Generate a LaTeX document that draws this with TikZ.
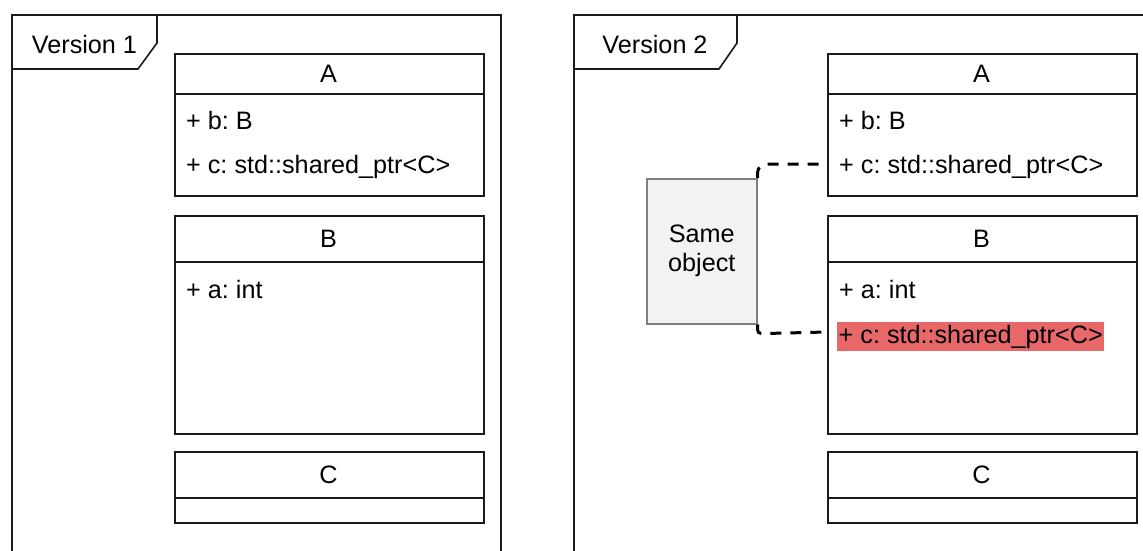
\documentclass[tikz,border=0pt]{standalone}
\usepackage{fontspec}
\setmainfont{Liberation Sans}
\frenchspacing
\definecolor{lineblack}{HTML}{1A1A1A}
\definecolor{hilite}{HTML}{E8686A}
\definecolor{notefill}{HTML}{F2F3F3}
\definecolor{noteline}{HTML}{7F7F7F}
\begin{document}
\begin{tikzpicture}[x=1pt,y=-1pt,
  every node/.style={font=\fontsize{25.2}{29}\selectfont},
  frameline/.style={draw=lineblack,line width=1.6pt},
  classbox/.style={draw=lineblack,line width=2pt,anchor=north west,minimum width=309pt,inner sep=0pt},
  sepline/.style={draw=lineblack,line width=2pt},
  member/.style={anchor=west,inner sep=0pt},
  title/.style={anchor=center,inner sep=0pt},
  samelink/.style={draw=black,line width=3pt,dash pattern=on 11pt off 9pt}]
\useasboundingbox (0,0) rectangle (1143,551);
\clip (0,0) rectangle (1143,551);

% ---- two frames with their name tabs ----
\draw[frameline] (12,570) -- (12,15) -- (501,15) -- (501,570);
\draw[frameline] (12,69) -- (138,69) -- (157,43) -- (157,15);
\node[title] (v1) at (84.5,44) {Version 1};

\draw[frameline] (574,570) -- (574,15) -- (1160,15);
\draw[frameline] (574,69) -- (719,69) -- (737,43) -- (737,15);
\node[title] (v2) at (655,44) {Version 2};

% ---- version 1 classes ----
\node[classbox,minimum height=142pt] (A1) at (174,53) {};
\draw[sepline] ([yshift=-41pt]A1.north west) -- ([yshift=-41pt]A1.north east);
\node[title] (A1t) at (328.5,74) {A};
\node[member] (A1b) at (186,120) {+ b: B};
\node[member] (A1c) at (186,167) {+ c: std::shared\_ptr<C>};

\node[classbox,minimum height=218pt] (B1) at (174,215) {};
\draw[sepline] ([yshift=-47pt]B1.north west) -- ([yshift=-47pt]B1.north east);
\node[title] (B1t) at (328.5,239) {B};
\node[member] (B1a) at (186,289) {+ a: int};

\node[classbox,minimum height=71pt] (C1) at (174,451) {};
\draw[sepline] ([yshift=-47pt]C1.north west) -- ([yshift=-47pt]C1.north east);
\node[title] (C1t) at (328.5,475) {C};

% ---- version 2 classes ----
\node[classbox,minimum height=142pt] (A2) at (827,53) {};
\draw[sepline] ([yshift=-41pt]A2.north west) -- ([yshift=-41pt]A2.north east);
\node[title] (A2t) at (981.5,74) {A};
\node[member] (A2b) at (839,120) {+ b: B};
\node[member] (A2c) at (839,167) {+ c: std::shared\_ptr<C>};

\node[classbox,minimum height=218pt] (B2) at (827,215) {};
\draw[sepline] ([yshift=-47pt]B2.north west) -- ([yshift=-47pt]B2.north east);
\node[title] (B2t) at (981.5,239) {B};
\node[member] (B2a) at (839,289) {+ a: int};
\node[member,fill=hilite,inner xsep=1.5pt,minimum height=29pt] (B2c) at (837,336.5) {+ c: std::shared\_ptr<C>};

\node[classbox,minimum height=71pt] (C2) at (827,451) {};
\draw[sepline] ([yshift=-47pt]C2.north west) -- ([yshift=-47pt]C2.north east);
\node[title] (C2t) at (981.5,475) {C};

% ---- note and its two dashed links ----
\node[draw=noteline,fill=notefill,line width=1.5pt,anchor=north west,
      minimum width=110pt,minimum height=145pt,inner sep=0pt,align=center] (same) at (646,178) {Same\\object};
\draw[samelink] (same.north east) .. controls ([yshift=10pt]same.north east) .. ([xshift=8pt,yshift=14pt]same.north east)
  -- ([yshift=-111pt]A2.north west);
\draw[samelink] (same.south east) .. controls ([yshift=-9pt]same.south east) .. ([xshift=8pt,yshift=-9pt]same.south east)
  -- ([yshift=-117pt]B2.north west);
\end{tikzpicture}
\end{document}
